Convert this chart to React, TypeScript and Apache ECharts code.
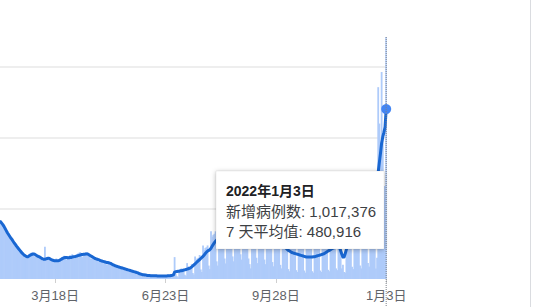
import React, { useEffect, useRef } from "react";
import * as echarts from "echarts";

// First day shown on the axis; one category per day from here on.
const START_DATE = "2021-01-29";
const TICK_DATES = ["2021-03-18", "2021-06-23", "2021-09-28", "2022-01-03"];

// Reported new cases per day, in thousands (weeks run Fri..Thu).
const dailyCasesK = [
  166, 158, 150, 148, 146, 140, 134,
  130, 122, 114, 110, 110, 104, 100,
  96, 88, 82, 80, 78, 72, 68,
  62, 60, 58, 62, 70, 72, 74,
  76, 68, 64, 64, 64, 66, 66,
  64, 57, 52, 54, 91, 58, 60,
  62, 56, 50, 51, 54, 56, 55,
  58, 52, 48, 52, 57, 62, 63,
  66, 58, 54, 57, 63, 67, 68,
  70, 62, 57, 60, 67, 72, 74,
  76, 67, 62, 65, 71, 75, 76,
  72, 63, 58, 58, 61, 62, 61,
  60, 53, 48, 49, 52, 54, 53,
  52, 46, 41, 42, 46, 48, 47,
  43, 38, 34, 34, 36, 37, 36,
  35, 30, 27, 27, 29, 30, 29,
  27, 23, 20, 20, 22, 23, 22,
  21, 17, 14, 10, 13, 15, 14,
  14, 10, 8, 9, 11, 12, 11,
  12, 8, 7, 8, 10, 11, 10,
  11, 7, 6, 8, 10, 11, 10,
  12, 7, 6, 10, 13, 16, 62,
  14, 8, 5, 20, 28, 30, 28,
  30, 12, 9, 45, 36, 34, 33,
  42, 17, 13, 64, 55, 58, 60,
  68, 27, 20, 95, 82, 88, 90,
  95, 38, 28, 135, 120, 125, 128,
  135, 50, 38, 175, 150, 152, 150,
  155, 58, 44, 200, 170, 172, 168,
  170, 64, 50, 220, 185, 188, 182,
  182, 70, 55, 235, 195, 200, 195,
  185, 58, 42, 30, 240, 215, 205,
  190, 60, 45, 250, 200, 195, 185,
  175, 55, 42, 220, 170, 165, 158,
  150, 48, 36, 180, 140, 135, 128,
  122, 40, 30, 150, 115, 110, 102,
  95, 28, 22, 120, 92, 90, 88,
  90, 25, 20, 110, 90, 88, 86,
  86, 24, 18, 105, 88, 86, 86,
  88, 22, 18, 110, 88, 86, 86,
  90, 24, 20, 120, 92, 90, 88,
  95, 26, 22, 130, 100, 98, 96,
  110, 30, 25, 145, 115, 112, 30,
  40, 20, 18, 160, 135, 130, 125,
  130, 35, 28, 190, 150, 148, 140,
  140, 38, 30, 200, 160, 158, 155,
  170, 45, 35, 250, 210, 230, 260,
  200, 30, 60, 543, 440, 360, 586,
  400, 230, 263, 1017.376,
];

// Seven-day average of new cases, in thousands.
const sevenDayAvgK = [
  162, 158, 154, 149, 143, 137, 131,
  126, 121, 116, 112, 107, 102, 98,
  93, 89, 85, 81, 77, 73, 70,
  67, 65, 63, 63, 65, 67, 69,
  70, 71, 70, 68, 66, 64, 63,
  61, 59, 57, 56, 56, 57, 58,
  59, 58, 56, 54, 53, 52, 52,
  52, 52, 52, 53, 55, 57, 59,
  60, 61, 61, 60, 60, 61, 61,
  62, 63, 63, 64, 65, 66, 67,
  68, 69, 69, 70, 70, 71, 71,
  70, 68, 66, 64, 62, 60, 58,
  57, 56, 55, 53, 52, 51, 50,
  49, 48, 47, 47, 46, 45, 44,
  42, 40, 39, 37, 36, 35, 34,
  33, 32, 31, 30, 29, 28, 27,
  26, 25, 24, 23, 22, 21, 20,
  19, 18, 17, 15, 14, 13, 12,
  12, 11, 11, 10, 10, 10, 9.5,
  9.5, 9, 9, 9, 9, 8.5, 8.5,
  8.5, 8.5, 8.5, 8.5, 8.5, 8.5, 8.5,
  9, 9, 9.5, 10, 10.5, 11.5, 19.5,
  20.5, 21, 22, 22, 23, 23, 24,
  25, 26, 27, 28, 29, 30, 32,
  34, 37, 40, 43, 46, 49, 52,
  55, 58, 61, 64, 68, 72, 76,
  79, 81, 83, 87, 93, 98, 103,
  107, 110, 112, 115, 118, 121, 124,
  126, 128, 130, 133, 136, 139, 141,
  143, 145, 146, 148, 150, 152, 154,
  156, 157, 158, 160, 162, 164, 165,
  165, 164, 160, 150, 145, 142, 140,
  150, 155, 160, 168, 170, 168, 165,
  160, 156, 152, 148, 144, 140, 136,
  132, 128, 124, 120, 116, 113, 110,
  107, 104, 101, 98, 95, 91, 87,
  84, 81, 79, 77, 75, 74, 73,
  72, 71, 70, 69, 68, 67, 66,
  65, 64, 63, 62, 62, 62, 62,
  62, 62, 63, 63, 64, 65, 66,
  67, 68, 69, 70, 71, 73, 75,
  77, 79, 81, 83, 85, 87, 88,
  89, 90, 91, 92, 90, 80, 70,
  62, 62, 72, 84, 92, 97, 101,
  104, 106, 108, 110, 112, 113, 114,
  115, 116, 117, 118, 120, 122, 125,
  128, 132, 136, 142, 150, 160, 172,
  185, 200, 240, 303, 330, 356, 385,
  402, 415, 430, 480.916,
];

const Y_MAX = 685000;
const Y_STEP = 200000;

const FONT = 'Arial, "Liberation Sans", "Noto Sans CJK SC", sans-serif';
const BAR_COLOR = "#aecbfa";

const dailyCases = dailyCasesK.map((v) => Math.round(v * 1000));
const sevenDayAvg = sevenDayAvgK.map((v) => Math.round(v * 1000));

const dates: string[] = dailyCases.map((_, i) => {
  const [y, m, d] = START_DATE.split("-").map(Number);
  return new Date(Date.UTC(y, m - 1, d + i)).toISOString().slice(0, 10);
});

const monthDay = (iso: string) => {
  const [, m, d] = iso.split("-").map(Number);
  return `${m}月${d}日`;
};
const fullDate = (iso: string) => {
  const [y, m, d] = iso.split("-").map(Number);
  return `${y}年${m}月${d}日`;
};
const withCommas = (n: number) =>
  String(n).replace(/\B(?=(\d{3})+(?!\d))/g, ",");

export default function App() {
  const ref = useRef<HTMLDivElement>(null);

  useEffect(() => {
    if (!ref.current) return;
    const chart = echarts.init(ref.current, undefined, { renderer: "svg" });
    const last = dates.length - 1;
    const showTick = (_: number, value: string) => TICK_DATES.includes(value);

    chart.setOption({
      animation: false,
      grid: { left: 0, right: 148.25, top: 37, bottom: 28 },
      xAxis: {
        type: "category",
        data: dates,
        boundaryGap: true,
        axisLine: { show: false },
        axisTick: {
          show: true,
          interval: showTick,
          alignWithLabel: true,
          length: 4,
          lineStyle: { color: "#cfcfcf" },
        },
        axisLabel: {
          interval: showTick,
          formatter: monthDay,
          color: "#5f6368",
          fontSize: 13,
          fontFamily: FONT,
          margin: 10,
        },
        splitLine: { show: false },
      },
      yAxis: {
        type: "value",
        min: 0,
        max: Y_MAX,
        interval: Y_STEP,
        axisLabel: { show: false },
        axisLine: { show: false },
        axisTick: { show: false },
        splitLine: {
          show: true,
          showMinLine: false,
          showMaxLine: false,
          lineStyle: { color: "#e9e9e9", width: 1.5 },
        },
      },
      series: [
        {
          name: "新增病例数",
          type: "bar",
          data: dailyCases,
          // each day overlaps its neighbours so the bars read as one filled area
          barWidth: 1.8,
          itemStyle: { color: BAR_COLOR },
          clip: true,
          z: 2,
        },
        {
          name: "7 天平均值",
          type: "line",
          data: sevenDayAvg,
          symbol: "none",
          lineStyle: { color: "#1967d2", width: 3, cap: "round", join: "round" },
          z: 3,
          markPoint: {
            symbol: "circle",
            symbolSize: 10,
            label: { show: false },
            itemStyle: { color: "#4285f4" },
            data: [{ coord: [dates[last], sevenDayAvg[last]] }],
          },
        },
      ],
    });

    const hoverX = chart.convertToPixel({ xAxisIndex: 0 }, dates[last]) as number;
    const tipX = 216;
    const tipY = 171;

    chart.setOption({
      graphic: [
        {
          type: "line",
          z: 50,
          shape: { x1: hoverX, y1: 37, x2: hoverX, y2: 307 },
          style: { stroke: "#7b8089", lineWidth: 1, lineDash: [1, 1] },
        },
        {
          type: "rect",
          z: 60,
          shape: { x: tipX, y: tipY, width: 168, height: 78 },
          style: {
            fill: "#ffffff",
            stroke: "rgba(0,0,0,0.06)",
            shadowBlur: 5,
            shadowColor: "rgba(0,0,0,0.28)",
            shadowOffsetY: 1,
          },
        },
        {
          type: "text",
          z: 61,
          style: {
            x: tipX + 10,
            y: tipY + 20,
            text: fullDate(dates[last]),
            fontFamily: FONT,
            fontSize: 14,
            fontWeight: "bold",
            fill: "#202124",
            verticalAlign: "middle",
          },
        },
        {
          type: "text",
          z: 61,
          style: {
            x: tipX + 10,
            y: tipY + 40,
            text: `新增病例数: ${withCommas(dailyCases[last])}`,
            fontFamily: FONT,
            fontSize: 15,
            fill: "#3c4043",
            verticalAlign: "middle",
          },
        },
        {
          type: "text",
          z: 61,
          style: {
            x: tipX + 10,
            y: tipY + 60,
            text: `7 天平均值: ${withCommas(sevenDayAvg[last])}`,
            fontFamily: FONT,
            fontSize: 15,
            fill: "#3c4043",
            verticalAlign: "middle",
          },
        },
        {
          type: "line",
          z: 50,
          shape: { x1: 530.5, y1: 0, x2: 530.5, y2: 307 },
          style: { stroke: "#dadce0", lineWidth: 1 },
        },
      ],
    });

    return () => chart.dispose();
  }, []);

  return (
    <div
      ref={ref}
      style={{ position: "fixed", left: 0, top: 0, width: 535, height: 307, background: "#fff" }}
    />
  );
}
